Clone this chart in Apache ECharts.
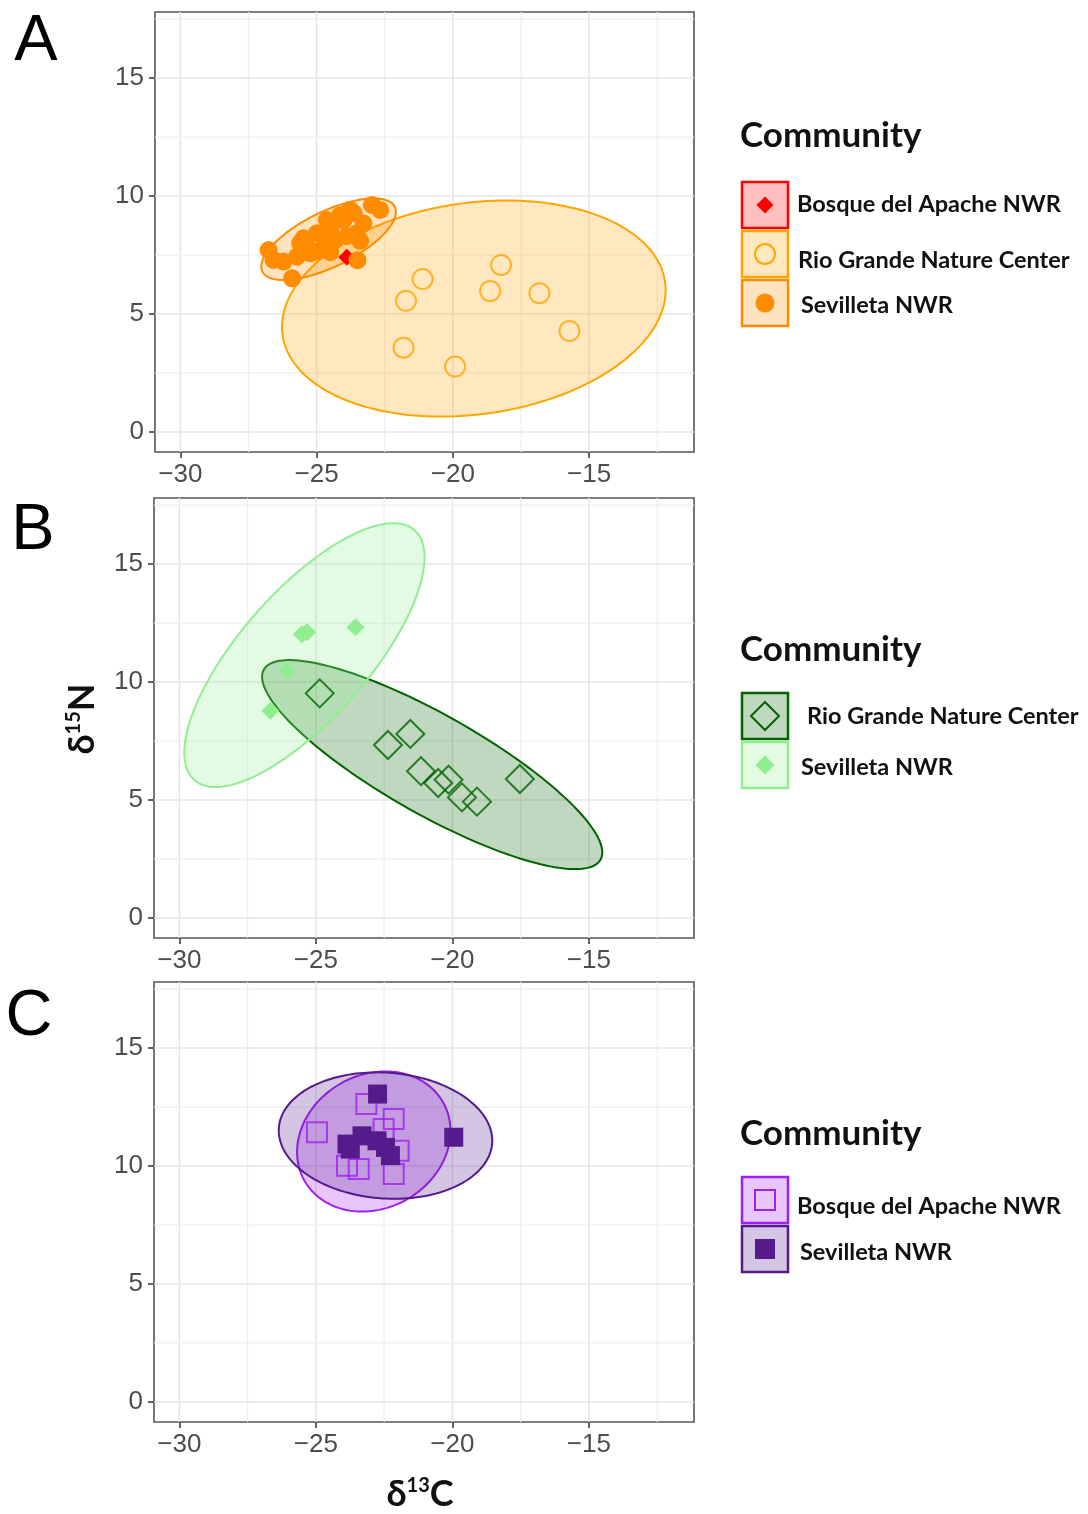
<!DOCTYPE html>
<html>
<head>
<meta charset="utf-8">
<script src="https://cdn.jsdelivr.net/npm/echarts@6/dist/echarts.min.js"></script>
<style>
  html, body { margin: 0; padding: 0; background: #fff; }
  #chart { width: 1088px; height: 1514px; }
</style>
</head>
<body>
<div id="chart"></div>
<script>
// Axis ticks and reference lines (δ13C on x, δ15N on y)
const xTicks = [-30, -25, -20, -15];
const yTicks = [0, 5, 10, 15];
const xMinor = [-27.5, -22.5, -17.5, -12.5];
const yMinor = [2.5, 7.5, 12.5, 17.5];

// Panel A
const aBosque = [[-23.89, 7.40]];
const aRio = [[-21.11, 6.48], [-21.72, 5.56], [-18.23, 7.08], [-18.63, 5.97], [-16.82, 5.88],
              [-15.72, 4.28], [-21.81, 3.57], [-19.92, 2.77]];
const aSevilleta = [[-26.76, 7.71], [-25.90, 6.51], [-26.21, 7.22], [-25.72, 7.43], [-22.67, 9.41],
                    [-22.97, 9.62], [-23.50, 7.28], [-25.48, 8.21], [-24.99, 8.42], [-24.50, 8.56],
                    [-24.01, 8.98], [-23.64, 9.27], [-24.74, 7.85], [-25.23, 7.57], [-24.30, 8.15],
                    [-23.53, 8.42], [-23.28, 8.84], [-23.89, 8.30], [-25.36, 7.85], [-26.58, 7.29],
                    [-24.62, 8.98], [-24.13, 9.19], [-23.77, 9.41], [-25.60, 8.00], [-24.99, 7.64],
                    [-24.50, 7.62], [-24.74, 8.28], [-23.40, 8.10]];
// ellipse: [centre x, centre y, half-width, half-height, correlation]
const aRioEllipse = [-19.23, 5.23, 7.04, 4.58, 0.17];
const aSevilletaEllipse = [-24.56, 8.17, 2.47, 1.73, 0.67];

// Panel B
const bRio = [[-24.86, 9.52], [-22.36, 7.33], [-21.54, 7.80], [-21.15, 6.22], [-20.52, 5.72],
              [-20.14, 5.86], [-19.65, 5.11], [-19.10, 4.93], [-17.53, 5.89]];
const bSevilleta = [[-25.51, 12.03], [-25.32, 12.11], [-23.55, 12.32], [-26.05, 10.48], [-26.67, 8.78]];
const bRioEllipse = [-20.74, 6.50, 6.23, 4.43, -0.84];
const bSevilletaEllipse = [-25.42, 11.14, 4.40, 5.59, 0.74];

// Panel C
const cBosque = [[-23.15, 12.63], [-24.96, 11.43], [-22.15, 11.99], [-22.52, 11.57], [-21.97, 10.65],
                 [-23.86, 10.01], [-23.43, 9.87], [-22.15, 9.66]];
const cSevilleta = [[-22.74, 13.05], [-19.95, 11.22], [-23.86, 10.93], [-23.31, 11.28], [-22.76, 11.07],
                    [-22.45, 10.79], [-22.27, 10.44], [-23.74, 10.72]];
const cBosqueEllipse = [-22.88, 11.04, 2.81, 2.97, 0.15];
const cSevilletaEllipse = [-22.45, 11.29, 3.91, 2.68, -0.08];

// Legend entries
const legendTitle = 'Community';
const aNames = ['Bosque del Apache NWR', 'Rio Grande Nature Center', 'Sevilleta NWR'];
const bNames = ['Rio Grande Nature Center', 'Sevilleta NWR'];
const cNames = ['Bosque del Apache NWR', 'Sevilleta NWR'];
const panelLetters = ['A', 'B', 'C'];

// ---------------------------------------------------------------
const X_MIN = -30.93, X_MAX = -11.15, Y_MIN = -0.85, Y_MAX = 17.8;
const COL = {
  red: '#FF0000', orange: '#FFA500', darkorange: '#FF8C00',
  darkgreen: '#006400', lightgreen: '#90EE90',
  purple: '#A020F0', purple4: '#551A8B'
};
function alpha(hex, a) {
  const n = parseInt(hex.slice(1), 16);
  return `rgba(${(n >> 16) & 255},${(n >> 8) & 255},${n & 255},${a})`;
}
const minus = v => String(v).replace('-', '\u2212');

const grids = [
  { left: 155, top: 12, width: 539, height: 440 },
  { left: 154, top: 498, width: 540, height: 440 },
  { left: 154, top: 982, width: 540, height: 440 }
].map(g => Object.assign(g, { show: true, borderColor: '#555', borderWidth: 1.6, backgroundColor: '#fff' }));

const tickFont = { fontFamily: 'Liberation Sans', fontSize: 26, color: '#4D4D4D' };
const xAxes = grids.map((g, i) => ({
  type: 'value', gridIndex: i, min: X_MIN, max: X_MAX,
  axisLine: { show: false, onZero: false },
  splitLine: { show: false },
  axisTick: { show: true, customValues: xTicks, length: 6, lineStyle: { color: '#333', width: 1.5 } },
  axisLabel: Object.assign({ customValues: xTicks, margin: 10, formatter: minus }, tickFont)
}));
const yAxes = grids.map((g, i) => ({
  type: 'value', gridIndex: i, min: Y_MIN, max: Y_MAX,
  axisLine: { show: false, onZero: false },
  splitLine: { show: false },
  axisTick: { show: true, customValues: yTicks, length: 6, lineStyle: { color: '#333', width: 1.5 } },
  axisLabel: Object.assign({ customValues: yTicks, margin: 11, formatter: minus }, tickFont)
}));

// Light background reference lines for one panel
function gridLineSeries(idx) {
  const data = [];
  xTicks.forEach(v => data.push([v, 0, 1]));
  xMinor.forEach(v => data.push([v, 0, 0]));
  yTicks.forEach(v => data.push([v, 1, 1]));
  yMinor.forEach(v => data.push([v, 1, 0]));
  return {
    type: 'custom', xAxisIndex: idx, yAxisIndex: idx, z: 1, silent: true,
    encode: { x: -1, y: -1 },
    data,
    renderItem(params, api) {
      const v = api.value(0), horiz = api.value(1) === 1, major = api.value(2) === 1;
      const p1 = horiz ? api.coord([X_MIN, v]) : api.coord([v, Y_MIN]);
      const p2 = horiz ? api.coord([X_MAX, v]) : api.coord([v, Y_MAX]);
      return {
        type: 'line',
        shape: { x1: p1[0], y1: p1[1], x2: p2[0], y2: p2[1] },
        style: { stroke: major ? '#E6E6E6' : '#EEEEEE', lineWidth: major ? 1.6 : 1.2 }
      };
    }
  };
}

// Confidence ellipse drawn from centre, half-axes and correlation
function ellipseSeries(idx, ell, color, z) {
  return {
    type: 'custom', xAxisIndex: idx, yAxisIndex: idx, z, silent: true,
    data: [ell],
    encode: { x: 0, y: 1 },
    renderItem(params, api) {
      const [cx, cy, rx, ry, rho] = ell;
      const s = Math.sqrt(1 - rho * rho);
      const pts = [];
      for (let k = 0; k < 180; k++) {
        const t = 2 * Math.PI * k / 180;
        pts.push(api.coord([cx + rx * Math.cos(t), cy + ry * (rho * Math.cos(t) + s * Math.sin(t))]));
      }
      return {
        type: 'polygon', shape: { points: pts },
        style: { fill: alpha(color, 0.25), stroke: color, lineWidth: 2 }
      };
    }
  };
}

function scatter(idx, data, symbol, size, color, hollow, name) {
  return {
    type: 'scatter', name, xAxisIndex: idx, yAxisIndex: idx, z: 5, silent: true,
    data, symbol, symbolSize: size,
    itemStyle: hollow
      ? { color: 'rgba(255,255,255,0)', borderColor: color, borderWidth: 2 }
      : { color: color, opacity: 1 }
  };
}

const series = [
  gridLineSeries(0), gridLineSeries(1), gridLineSeries(2),
  ellipseSeries(0, aRioEllipse, COL.orange, 2),
  ellipseSeries(0, aSevilletaEllipse, COL.darkorange, 2),
  scatter(0, aBosque, 'diamond', 17, COL.red, false, aNames[0]),
  scatter(0, aRio, 'circle', 20, COL.orange, true, aNames[1]),
  scatter(0, aSevilleta, 'circle', 18, COL.darkorange, false, aNames[2]),
  ellipseSeries(1, bRioEllipse, COL.darkgreen, 2),
  ellipseSeries(1, bSevilletaEllipse, COL.lightgreen, 2),
  scatter(1, bRio, 'diamond', 28, COL.darkgreen, true, bNames[0]),
  scatter(1, bSevilleta, 'diamond', 18, COL.lightgreen, false, bNames[1]),
  ellipseSeries(2, cBosqueEllipse, COL.purple, 2),
  ellipseSeries(2, cSevilletaEllipse, COL.purple4, 2),
  scatter(2, cBosque, 'rect', 20, COL.purple, true, cNames[0]),
  scatter(2, cSevilleta, 'rect', 19, COL.purple4, false, cNames[1])
];

// ---- legend keys, titles and panel letters ----
const legendFont = 'bold 23.5px Lato';
function keySymbol(kind, cx, cy, size, color, hollow) {
  const style = hollow ? { fill: 'none', stroke: color, lineWidth: 2 } : { fill: color };
  if (kind === 'circle') return { type: 'circle', shape: { cx, cy, r: size / 2 }, style };
  if (kind === 'diamond') {
    const h = size / 2;
    return { type: 'polygon', shape: { points: [[cx, cy - h], [cx + h, cy], [cx, cy + h], [cx - h, cy]] }, style };
  }
  return { type: 'rect', shape: { x: cx - size / 2, y: cy - size / 2, width: size, height: size }, style };
}
function legendBlock(titleY, rows) {
  const els = [{
    type: 'text', x: 740, y: titleY,
    style: { text: legendTitle, font: 'bold 35px Lato', fill: '#111', verticalAlign: 'middle' }
  }];
  rows.forEach(r => {
    els.push({
      type: 'rect', shape: { x: 742, y: r.top, width: 46, height: 46 },
      style: { fill: alpha(r.color, 0.25), stroke: r.color, lineWidth: 2.5 }
    });
    els.push(keySymbol(r.kind, 765, r.top + 23, r.size, r.color, r.hollow));
    els.push({
      type: 'text', x: r.tx, y: r.ty,
      style: { text: r.name, font: legendFont, fill: '#111', verticalAlign: 'middle' }
    });
  });
  return els;
}
const graphics = [].concat(
  legendBlock(136, [
    { name: aNames[0], color: COL.red, kind: 'diamond', size: 17, hollow: false, top: 182, tx: 797, ty: 204 },
    { name: aNames[1], color: COL.orange, kind: 'circle', size: 20, hollow: true, top: 231, tx: 798, ty: 260 },
    { name: aNames[2], color: COL.darkorange, kind: 'circle', size: 19, hollow: false, top: 280, tx: 801, ty: 305 }
  ]),
  legendBlock(650, [
    { name: bNames[0], color: COL.darkgreen, kind: 'diamond', size: 28, hollow: true, top: 693, tx: 807, ty: 716 },
    { name: bNames[1], color: COL.lightgreen, kind: 'diamond', size: 19, hollow: false, top: 742, tx: 801, ty: 767 }
  ]),
  legendBlock(1134, [
    { name: cNames[0], color: COL.purple, kind: 'rect', size: 20, hollow: true, top: 1177, tx: 797, ty: 1206 },
    { name: cNames[1], color: COL.purple4, kind: 'rect', size: 20, hollow: false, top: 1226, tx: 800, ty: 1252 }
  ]),
  [[36, 42], [33, 531], [29, 1017]].map((p, i) => ({
    type: 'text', x: p[0], y: p[1],
    style: { text: panelLetters[i], font: '65px Liberation Sans', fill: '#000', align: 'center', verticalAlign: 'middle' }
  })),
  [{
    type: 'text', x: 420, y: 1494,
    style: {
      text: '{d|δ}{s|13}{d|C}', align: 'center', verticalAlign: 'middle',
      rich: {
        d: { font: 'bold 36px Lato', fill: '#111' },
        s: { font: 'bold 20px Lato', fill: '#111', verticalAlign: 'top' }
      }
    }
  }, {
    type: 'text', x: 82, y: 719, rotation: Math.PI / 2,
    style: {
      text: '{d|δ}{s|15}{d|N}', align: 'center', verticalAlign: 'middle',
      rich: {
        d: { font: 'bold 36px Lato', fill: '#111' },
        s: { font: 'bold 20px Lato', fill: '#111', verticalAlign: 'top' }
      }
    }
  }]
);

const chart = echarts.init(document.getElementById('chart'), null, { renderer: 'canvas' });
chart.setOption({
  backgroundColor: '#fff',
  animation: false,
  grid: grids,
  xAxis: xAxes,
  yAxis: yAxes,
  series,
  graphic: graphics
});
</script>
</body>
</html>
